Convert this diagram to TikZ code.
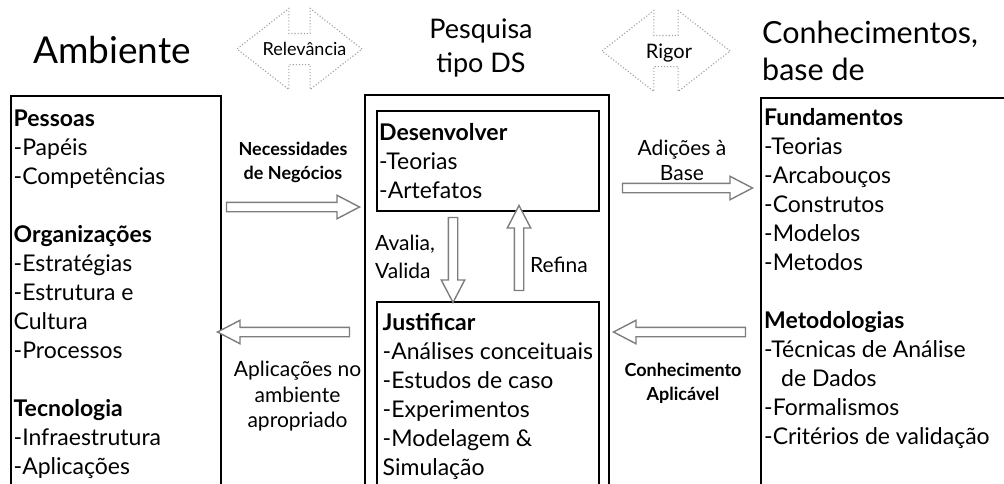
\documentclass[tikz,border=0pt]{standalone}
\usepackage{fontspec}
\setmainfont{Lato}
\usetikzlibrary{shapes.arrows, positioning, calc}
\definecolor{ArrowGray}{RGB}{125,125,125}
\definecolor{DotGray}{RGB}{160,160,160}

\begin{document}
\begin{tikzpicture}[x=1pt, y=-1pt, every node/.style={inner sep=0pt},
  boxframe/.style={draw, line width=1.8pt, anchor=north west},
  body/.style={anchor=north west, align=left, font=\fontsize{23}{29}\selectfont},
  flowlabel/.style={anchor=north, align=center, font=\fontsize{21}{25.5}\selectfont},
  flowbold/.style={anchor=north, align=center, font=\bfseries\fontsize{18}{24}\selectfont},
  blockarrow/.style={single arrow, draw=ArrowGray, line width=1.4pt, fill=white, inner xsep=0pt, inner ysep=4pt,
    minimum height=#1, single arrow head extend=7pt, single arrow tip angle=55},
  twoway/.style={double arrow, draw=DotGray, dotted, line width=1.1pt, inner xsep=0pt, inner ysep=15pt,
    minimum height=#1, double arrow head extend=25pt, double arrow tip angle=76}]
\useasboundingbox (0,0) rectangle (1004,483);
\clip (0,0) rectangle (1004,483);

% titles
\node[font=\fontsize{37}{44}\selectfont, anchor=base] (envtitle) at (112,63) {Ambiente};
\node[font=\fontsize{27}{34}\selectfont, anchor=north, align=center] (dstitle) at (481,14.2) {\strut Pesquisa\\tipo DS};
\node[font=\fontsize{30.5}{37}\selectfont, anchor=north west, align=left] (kbtitle) at (762,17.1) {\strut Conhecimentos,\\base de};

% relevance and rigor
\node[twoway=125pt] (relev) at (299.5,49) {};
\node[font=\fontsize{18}{22}\selectfont, anchor=base] (relevtxt) at (304.5,55) {Relevância};
\node[twoway=128pt] (rigor) at (666,51) {};
\node[font=\fontsize{20}{24}\selectfont, anchor=base] (rigortxt) at (669,58) {Rigor};

% the three columns
\node[boxframe, minimum width=210pt, minimum height=420pt] (env) at (10,95) {};
\node[boxframe, minimum width=244pt, minimum height=420pt] (ds) at (364,94) {};
\node[boxframe, minimum width=222pt, minimum height=100pt] (dev) at (376,110) {};
\node[boxframe, minimum width=222pt, minimum height=220pt] (just) at (376,301) {};
\node[boxframe, minimum width=300pt, minimum height=420pt] (kb) at (760,97) {};

\node[body] (envtext) at (13.5,106.2) {\strut\textbf{Pessoas}\\-Papéis\\-Competências\\[29pt]\textbf{Organizações}\\-Estratégias\\-Estrutura e\\Cultura\\-Processos\\[29pt]\textbf{Tecnologia}\\-Infraestrutura\\-Aplicações};
\node[body] (devtext) at (379,119.7) {\strut\textbf{Desenvolver}\\-Teorias\\-Artefatos};
\node[body] (justtext) at (382.5,309.7) {\strut\textbf{Justificar}\\-Análises conceituais\\-Estudos de caso\\-Experimentos\\-Modelagem \&\\Simulação};
\node[body] (kbtext) at (764,104.7) {\strut\textbf{Fundamentos}\\-Teorias\\-Arcabouços\\-Construtos\\-Modelos\\-Metodos\\[29pt]\textbf{Metodologias}\\-Técnicas de Análise\\\hspace*{17pt}de Dados\\-Formalismos\\-Critérios de validação};

% flows between columns
\node[blockarrow=133pt] (needs) at (288.5,207) {};
\node[blockarrow=132pt, rotate=180] (apps) at (288,332) {};
\node[blockarrow=130pt] (adds) at (683,188) {};
\node[blockarrow=132pt, rotate=180] (known) at (684,332) {};
\node[blockarrow=85pt, rotate=-90] (evaluate) at (453,255.5) {};
\node[blockarrow=85pt, rotate=90] (refine) at (519,252.5) {};

\node[flowbold] (needslbl) at (293,138.2) {\strut Necessidades\\de Negócios};
\node[flowlabel] (appslbl) at (297.5,358.9) {\strut Aplicações no\\ambiente\\apropriado};
\node[flowlabel] (addslbl) at (682,137.2) {\strut Adições à\\Base};
\node[flowbold] (knownlbl) at (683,359.9) {\strut Conhecimento\\Aplicável};
\node[body, font=\fontsize{21}{28}\selectfont] (evallbl) at (375,230.4) {\strut Avalia,\\Valida};
\node[font=\fontsize{21}{28}\selectfont, anchor=base west] (refinelbl) at (530,272) {Refina};
\end{tikzpicture}
\end{document}
